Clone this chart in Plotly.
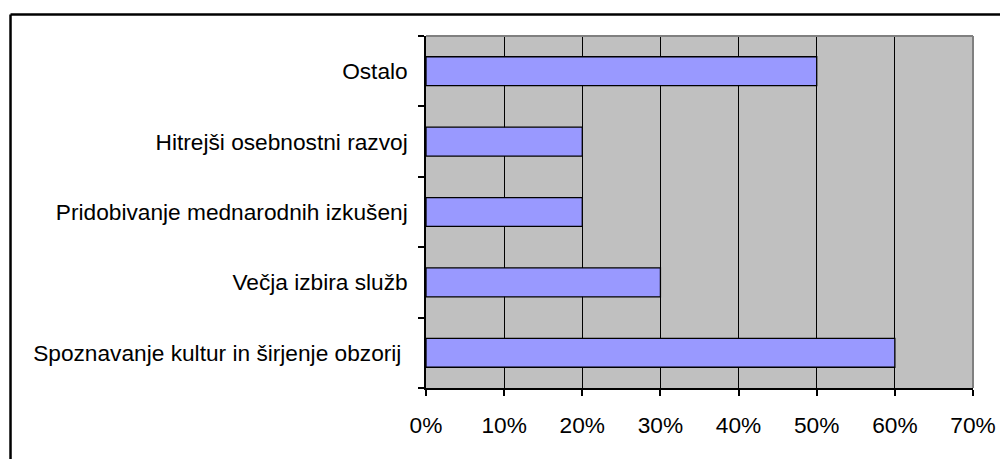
import plotly.graph_objects as go

categories = [
    "Spoznavanje kultur in širjenje obzorij ",
    "Večja izbira služb",
    "Pridobivanje mednarodnih izkušenj",
    "Hitrejši osebnostni razvoj",
    "Ostalo",
]
values = [0.60, 0.30, 0.20, 0.20, 0.50]
x_ticks = [0, 0.1, 0.2, 0.3, 0.4, 0.5, 0.6, 0.7]
x_tick_labels = ["0%", "10%", "20%", "30%", "40%", "50%", "60%", "70%"]

fig = go.Figure()
fig.add_trace(go.Bar(
    x=values, y=categories, orientation="h",
    marker=dict(color="#9999FF", line=dict(color="black", width=1.3)),
    hoverinfo="skip",
))

# the page has an 8px body margin; figure sized to fit the window
W, H = 1000, 451
L, R, T, B = 418, 33, 28, 71
PW, PH = W - L - R, H - T - B

def px(xf):
    return (xf - L) / PW

def py(yf):
    return (H - B - yf) / PH

fig.update_layout(
    width=W, height=H,
    margin=dict(l=L, r=R, t=T, b=B, pad=0),
    paper_bgcolor="white",
    plot_bgcolor="#C0C0C0",
    bargap=0.59,
    showlegend=False,
    font=dict(family="Liberation Sans, Arial, sans-serif", size=22.7, color="black"),
    xaxis=dict(
        range=[0, 0.7], tickvals=x_ticks, ticktext=x_tick_labels,
        showgrid=True, gridcolor="black", gridwidth=1.3,
        zeroline=False, showline=True, linecolor="black", linewidth=1.5,
        ticks="outside", ticklen=6, tickcolor="black", tickwidth=1.5,
        ticklabelstandoff=10, fixedrange=True,
    ),
    yaxis=dict(
        showgrid=False, zeroline=False, showline=True, linecolor="black", linewidth=1.5,
        ticks="outside", tickson="boundaries", ticklen=6, tickcolor="black", tickwidth=1.5,
        ticklabelstandoff=12, fixedrange=True,
    ),
    shapes=[
        dict(type="line", xref="paper", yref="paper", x0=0, x1=1, y0=1, y1=1,
             line=dict(color="#808080", width=2)),
        dict(type="line", xref="paper", yref="paper", x0=1, x1=1, y0=0, y1=1,
             line=dict(color="#808080", width=2)),
        dict(type="line", xref="paper", yref="paper",
             x0=px(1), x1=px(W + 5), y0=py(6.5), y1=py(6.5),
             line=dict(color="black", width=2.5)),
        dict(type="line", xref="paper", yref="paper",
             x0=px(1), x1=px(1), y0=py(6.5), y1=py(H + 5),
             line=dict(color="black", width=2.5)),
    ],
)

fig.write_html("out.html")
